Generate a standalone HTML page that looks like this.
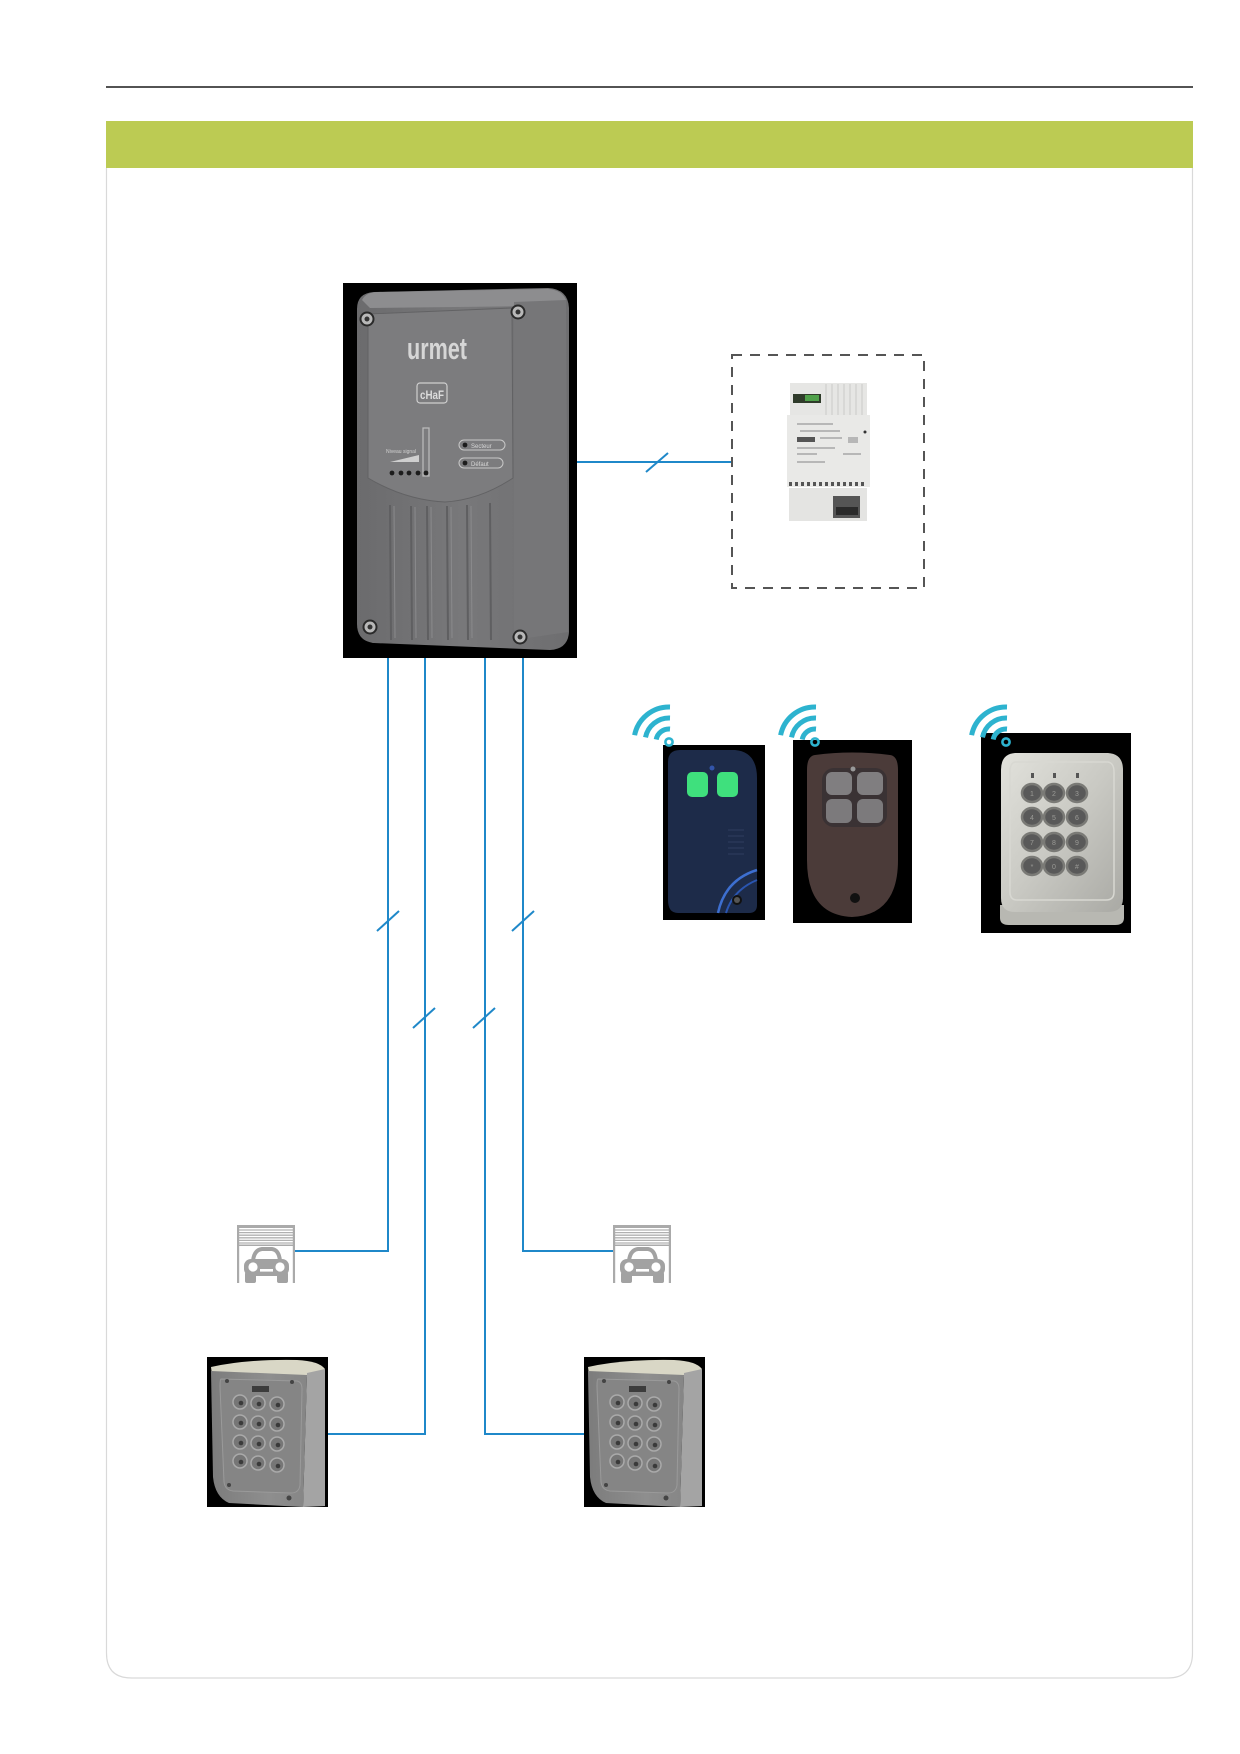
<!DOCTYPE html>
<html>
<head>
<meta charset="utf-8">
<style>
  html,body{margin:0;padding:0;background:#fff;}
  body{width:1240px;height:1754px;overflow:hidden;}
  svg{display:block;}
  text{font-family:"Liberation Sans",sans-serif;}
</style>
</head>
<body>
<svg width="1240" height="1754" viewBox="0 0 1240 1754" xmlns="http://www.w3.org/2000/svg">
  <defs>
    <linearGradient id="bodyG" x1="0" y1="0" x2="1" y2="0">
      <stop offset="0" stop-color="#6b6b6d"/>
      <stop offset="0.5" stop-color="#78787a"/>
      <stop offset="1" stop-color="#6e6e70"/>
    </linearGradient>
    <linearGradient id="silverG" x1="0" y1="0" x2="1" y2="1">
      <stop offset="0" stop-color="#e2e2dc"/>
      <stop offset="0.5" stop-color="#c9c9c3"/>
      <stop offset="1" stop-color="#a9a9a4"/>
    </linearGradient>
    <linearGradient id="kpG" x1="0" y1="0" x2="1" y2="0">
      <stop offset="0" stop-color="#7c7c7c"/>
      <stop offset="0.6" stop-color="#8e8e8e"/>
      <stop offset="1" stop-color="#868686"/>
    </linearGradient>
    <g id="wifi">
      <circle cx="0" cy="0" r="3.6" fill="none" stroke="#2db3cf" stroke-width="2.6"/>
      <path d="M-12.8 -2.5 A13 13 0 0 1 1 -13" fill="none" stroke="#2db3cf" stroke-width="5"/>
      <path d="M-23.5 -4.6 A24 24 0 0 1 1 -24" fill="none" stroke="#2db3cf" stroke-width="5"/>
      <path d="M-34.4 -6.8 A35 35 0 0 1 1 -35" fill="none" stroke="#2db3cf" stroke-width="5"/>
    </g>
    <g id="garage">
      <rect x="0" y="0" width="58" height="3" fill="#aaaaaa"/>
      <rect x="0" y="0" width="2.2" height="58" fill="#aaaaaa"/>
      <rect x="55.8" y="0" width="2.2" height="58" fill="#aaaaaa"/>
      <g stroke="#b0b0b0" stroke-width="1.3">
        <line x1="2" y1="5" x2="56" y2="5"/>
        <line x1="2" y1="7.6" x2="56" y2="7.6"/>
        <line x1="2" y1="10.2" x2="56" y2="10.2"/>
        <line x1="2" y1="12.8" x2="56" y2="12.8"/>
        <line x1="2" y1="15.4" x2="56" y2="15.4"/>
        <line x1="2" y1="18" x2="56" y2="18"/>
      </g>
      <rect x="2" y="19.5" width="54" height="1.5" fill="#aaaaaa"/>
      <path d="M16 36 Q17 25 25 24 L35 24 Q42 25 43 36 Z" fill="none" stroke="#a2a2a2" stroke-width="4"/>
      <rect x="7" y="34" width="45" height="17" rx="7" fill="#a2a2a2"/>
      <rect x="8" y="47" width="11" height="11" rx="2" fill="#a2a2a2"/>
      <rect x="40" y="47" width="11" height="11" rx="2" fill="#a2a2a2"/>
      <circle cx="16" cy="42" r="4.6" fill="#fff"/>
      <circle cx="43" cy="42" r="4.6" fill="#fff"/>
      <rect x="23" y="44" width="13" height="2.6" fill="#fff"/>
    </g>
    <g id="keypad">
      <rect x="0" y="0" width="121" height="150" fill="#000"/>
      <path d="M4 10 Q40 2 90 3 Q112 4 118 12 L100 20 L5 18 Z" fill="#d9d7c6"/>
      <path d="M100 16 L118 12 L118 149 L96 150 Z" fill="#a4a4a4"/>
      <path d="M4 14 L100 18 L96 150 L22 146 Q8 140 6 120 Z" fill="url(#kpG)"/>
      <path d="M14 22 L90 24 Q95 25 95 32 L93 128 Q92 136 84 136 L26 134 Q18 133 17 125 L13 30 Q13 22 14 22 Z" fill="#858585" stroke="#9a9a9a" stroke-width="1"/>
      <rect x="45" y="29" width="17" height="6" fill="#3c3c3c"/>
      <g fill="#767676" stroke="#aaaaaa" stroke-width="1.5">
        <circle cx="33" cy="45" r="7"/><circle cx="51" cy="46" r="7"/><circle cx="70" cy="47" r="7"/>
        <circle cx="33" cy="65" r="7"/><circle cx="51" cy="66" r="7"/><circle cx="70" cy="67" r="7"/>
        <circle cx="33" cy="85" r="7"/><circle cx="51" cy="86" r="7"/><circle cx="70" cy="87" r="7"/>
        <circle cx="33" cy="104" r="7"/><circle cx="51" cy="106" r="7"/><circle cx="70" cy="108" r="7"/>
      </g>
      <g fill="#3a3a3a">
        <circle cx="34" cy="46" r="2.3"/><circle cx="52" cy="47" r="2.3"/><circle cx="71" cy="48" r="2.3"/>
        <circle cx="34" cy="66" r="2.3"/><circle cx="52" cy="67" r="2.3"/><circle cx="71" cy="68" r="2.3"/>
        <circle cx="34" cy="86" r="2.3"/><circle cx="52" cy="87" r="2.3"/><circle cx="71" cy="88" r="2.3"/>
        <circle cx="34" cy="105" r="2.3"/><circle cx="52" cy="107" r="2.3"/><circle cx="71" cy="109" r="2.3"/>
      </g>
      <circle cx="20" cy="24" r="2" fill="#444"/>
      <circle cx="85" cy="25" r="2" fill="#444"/>
      <circle cx="22" cy="128" r="2" fill="#444"/>
      <circle cx="82" cy="141" r="2.5" fill="#444"/>
    </g>
  </defs>

  <line x1="106" y1="87" x2="1193" y2="87" stroke="#1a1a1a" stroke-width="1.6"/>
  <rect x="106" y="121" width="1087" height="47" fill="#bccb53"/>
  <path d="M106.5 168 L106.5 1653 Q106.5 1678 131.5 1678 L1167.5 1678 Q1192.5 1678 1192.5 1653 L1192.5 168" fill="none" stroke="#d9d9d9" stroke-width="1.2"/>

  <g stroke="#1f88c9" stroke-width="2" fill="none">
    <line x1="576" y1="462" x2="733" y2="462"/>
    <line x1="646" y1="472" x2="668" y2="453"/>
    <polyline points="388,658 388,1251 295,1251"/>
    <polyline points="425,658 425,1434 323,1434"/>
    <polyline points="485,658 485,1434 584,1434"/>
    <polyline points="523,658 523,1251 614,1251"/>
    <line x1="377" y1="931" x2="399" y2="911"/>
    <line x1="512" y1="931" x2="534" y2="911"/>
    <line x1="413" y1="1028" x2="435" y2="1008"/>
    <line x1="473" y1="1028" x2="495" y2="1008"/>
  </g>

  <rect x="732" y="355" width="192" height="233" fill="none" stroke="#555" stroke-width="2" stroke-dasharray="10,8"/>

  <!-- power supply -->
  <g>
    <rect x="790" y="383" width="77" height="34" fill="#e6e6e4"/>
    <g stroke="#c9c9c9" stroke-width="1">
      <line x1="826" y1="384" x2="826" y2="415"/><line x1="832" y1="384" x2="832" y2="415"/>
      <line x1="838" y1="384" x2="838" y2="415"/><line x1="844" y1="384" x2="844" y2="415"/>
      <line x1="850" y1="384" x2="850" y2="415"/><line x1="856" y1="384" x2="856" y2="415"/>
      <line x1="862" y1="384" x2="862" y2="415"/>
    </g>
    <rect x="793" y="394" width="28" height="9" fill="#2f3b2a"/>
    <rect x="805" y="395" width="14" height="6" fill="#4fa04a"/>
    <rect x="787" y="415" width="83" height="72" fill="#e9e9e7"/>
    <g fill="#b7b7b7">
      <rect x="797" y="423" width="36" height="2"/>
      <rect x="800" y="430" width="40" height="2"/>
      <rect x="820" y="437" width="22" height="2"/>
      <rect x="848" y="437" width="10" height="6"/>
      <rect x="797" y="447" width="38" height="2"/>
      <rect x="797" y="453" width="20" height="2"/>
      <rect x="843" y="453" width="18" height="2"/>
      <rect x="797" y="461" width="28" height="2"/>
    </g>
    <rect x="797" y="437" width="18" height="5" fill="#555"/>
    <circle cx="865" cy="432" r="1.5" fill="#333"/>
    <g fill="#555">
      <rect x="789" y="482" width="3" height="4"/><rect x="795" y="482" width="3" height="4"/>
      <rect x="801" y="482" width="3" height="4"/><rect x="807" y="482" width="3" height="4"/>
      <rect x="813" y="482" width="3" height="4"/><rect x="819" y="482" width="3" height="4"/>
      <rect x="825" y="482" width="3" height="4"/><rect x="831" y="482" width="3" height="4"/>
      <rect x="837" y="482" width="3" height="4"/><rect x="843" y="482" width="3" height="4"/>
      <rect x="849" y="482" width="3" height="4"/><rect x="855" y="482" width="3" height="4"/>
      <rect x="861" y="482" width="3" height="4"/>
    </g>
    <rect x="789" y="488" width="78" height="33" fill="#e4e4e2"/>
    <rect x="833" y="496" width="27" height="22" fill="#555"/>
    <rect x="836" y="507" width="22" height="8" fill="#2a2a2a"/>
  </g>

  <!-- main device -->
  <g>
    <rect x="343" y="283" width="234" height="375" fill="#000"/>
    <path d="M374 292 L548 288 Q568 289 569 308 L569 632 Q568 649 550 650 L374 643 Q357 641 357 624 L357 309 Q357 293 374 292 Z" fill="url(#bodyG)"/>
    <path d="M362 300 Q366 292 378 292 L548 289 Q562 290 566 300 L540 306 L370 308 Z" fill="#8d8d8f"/>
    <path d="M514 302 L566 300 L568 632 L514 640 Z" fill="#767678"/>
    <path d="M368 314 L512 308 L513 478 Q480 500 445 502 Q405 500 368 478 Z" fill="#7c7c7e" stroke="#626264" stroke-width="1"/>
    <g stroke="#5f5f61" stroke-width="2">
      <line x1="390" y1="505" x2="391" y2="640"/>
      <line x1="411" y1="506" x2="412" y2="640"/>
      <line x1="427" y1="506" x2="428" y2="640"/>
      <line x1="447" y1="506" x2="448" y2="640"/>
      <line x1="467" y1="505" x2="468" y2="640"/>
      <line x1="490" y1="503" x2="491" y2="640"/>
    </g>
    <g stroke="#8a8a8c" stroke-width="1">
      <line x1="394" y1="506" x2="395" y2="638"/>
      <line x1="415" y1="507" x2="416" y2="638"/>
      <line x1="431" y1="507" x2="432" y2="638"/>
      <line x1="451" y1="507" x2="452" y2="638"/>
      <line x1="471" y1="506" x2="472" y2="638"/>
    </g>
    <g>
      <circle cx="367" cy="319" r="7.5" fill="#2a2a2a"/><circle cx="367" cy="319" r="5.5" fill="#b8b8b8"/><circle cx="367" cy="319" r="2.5" fill="#333"/>
      <circle cx="518" cy="312" r="7.5" fill="#2a2a2a"/><circle cx="518" cy="312" r="5.5" fill="#b8b8b8"/><circle cx="518" cy="312" r="2.5" fill="#333"/>
      <circle cx="370" cy="627" r="7.5" fill="#2a2a2a"/><circle cx="370" cy="627" r="5.5" fill="#b8b8b8"/><circle cx="370" cy="627" r="2.5" fill="#333"/>
      <circle cx="520" cy="637" r="7.5" fill="#2a2a2a"/><circle cx="520" cy="637" r="5.5" fill="#b8b8b8"/><circle cx="520" cy="637" r="2.5" fill="#333"/>
    </g>
    <text x="407" y="359" font-family="Liberation Sans Narrow, Liberation Sans, sans-serif" font-weight="bold" font-size="31" fill="#d6d6d6" textLength="60" lengthAdjust="spacingAndGlyphs">urmet</text>
    <rect x="417" y="383" width="30" height="20" rx="3" fill="none" stroke="#cfcfcf" stroke-width="1.2"/>
    <text x="420" y="399" font-size="12" font-weight="bold" fill="#dcdcdc" textLength="24" lengthAdjust="spacingAndGlyphs">cHaF</text>
    <rect x="423" y="428" width="6" height="48" fill="none" stroke="#bdbdbd" stroke-width="1.2"/>
    <text x="386" y="453" font-size="5" fill="#d0d0d0">Niveau signal</text>
    <path d="M390 462 L419 455 L419 462 Z" fill="#cfcfcf"/>
    <g fill="#1c1c1c">
      <circle cx="392" cy="473" r="2.4"/><circle cx="401" cy="473" r="2.4"/><circle cx="409" cy="473" r="2.4"/><circle cx="418" cy="473" r="2.4"/><circle cx="426" cy="473" r="2.4"/>
    </g>
    <rect x="459" y="440" width="46" height="10" rx="5" fill="none" stroke="#c8c8c8" stroke-width="1"/>
    <circle cx="465" cy="445" r="2.4" fill="#1c1c1c"/>
    <text x="471" y="448" font-size="6" fill="#d8d8d8">Secteur</text>
    <rect x="459" y="458" width="44" height="10" rx="5" fill="none" stroke="#c8c8c8" stroke-width="1"/>
    <circle cx="465" cy="463" r="2.4" fill="#1c1c1c"/>
    <text x="471" y="466" font-size="6" fill="#d8d8d8">Défaut</text>
  </g>

  <!-- remote 1 (blue) -->
  <g>
    <rect x="663" y="745" width="102" height="175" fill="#000"/>
    <path d="M680 750 L735 750 Q757 752 757 778 L757 905 Q757 913 749 913 L678 913 Q668 913 668 900 L668 762 Q668 750 680 750 Z" fill="#1d2b49"/>
    <rect x="687" y="772" width="21" height="25" rx="5" fill="#3fe07d"/>
    <rect x="717" y="772" width="21" height="25" rx="5" fill="#3fe07d"/>
    <circle cx="712" cy="768" r="2.5" fill="#3355aa"/>
    <g stroke="#2f3e60" stroke-width="1"><line x1="728" y1="830" x2="744" y2="830"/><line x1="728" y1="836" x2="744" y2="836"/><line x1="728" y1="842" x2="744" y2="842"/><line x1="728" y1="848" x2="744" y2="848"/><line x1="728" y1="854" x2="744" y2="854"/></g>
    <path d="M718 913 Q725 880 757 870" fill="none" stroke="#3d6fd0" stroke-width="2.5"/>
    <path d="M726 913 Q733 890 757 880" fill="none" stroke="#2a55b0" stroke-width="2"/>
    <circle cx="737" cy="900" r="5" fill="#111"/>
    <circle cx="737" cy="900" r="3" fill="#555"/>
  </g>

  <!-- remote 2 (brown) -->
  <g>
    <rect x="793" y="740" width="119" height="183" fill="#000"/>
    <path d="M815 755 Q852 750 890 755 Q898 756 898 770 L898 860 Q898 915 852 917 Q807 915 807 860 L807 770 Q807 756 815 755 Z" fill="#4b3b39"/>
    <rect x="822" y="768" width="65" height="59" rx="12" fill="#3a3234"/>
    <rect x="826" y="772" width="26" height="23" rx="6" fill="#807e80"/>
    <rect x="857" y="772" width="26" height="23" rx="6" fill="#807e80"/>
    <rect x="826" y="799" width="26" height="24" rx="6" fill="#7c7a7c"/>
    <rect x="857" y="799" width="26" height="24" rx="6" fill="#7c7a7c"/>
    <circle cx="853" cy="769" r="2.5" fill="#999"/>
    <circle cx="855" cy="898" r="5" fill="#111"/>
  </g>

  <!-- remote 3 (silver keypad) -->
  <g>
    <rect x="981" y="733" width="150" height="200" fill="#000"/>
    <path d="M1000 905 L1124 905 L1124 918 Q1124 925 1115 925 L1009 925 Q1000 925 1000 918 Z" fill="#b8b8b2"/>
    <path d="M1015 753 L1108 753 Q1123 754 1123 770 L1123 898 Q1123 912 1108 912 L1015 912 Q1001 912 1001 898 L1001 770 Q1001 754 1015 753 Z" fill="url(#silverG)"/>
    <path d="M1015 762 L1108 762 Q1114 763 1114 772 L1114 892 Q1114 900 1106 900 L1017 900 Q1010 900 1010 892 L1010 772 Q1010 763 1015 762 Z" fill="none" stroke="#d8d8d2" stroke-width="1.5"/>
    <g fill="#555"><rect x="1031" y="773" width="3" height="5"/><rect x="1053" y="773" width="3" height="5"/><rect x="1076" y="773" width="3" height="5"/></g>
    <g fill="#595959" stroke="#7a7a76" stroke-width="2.5">
      <ellipse cx="1032" cy="793" rx="10" ry="9"/><ellipse cx="1054" cy="793" rx="10" ry="9"/><ellipse cx="1077" cy="793" rx="10" ry="9"/>
      <ellipse cx="1032" cy="817" rx="10" ry="9"/><ellipse cx="1054" cy="817" rx="10" ry="9"/><ellipse cx="1077" cy="817" rx="10" ry="9"/>
      <ellipse cx="1032" cy="842" rx="10" ry="9"/><ellipse cx="1054" cy="842" rx="10" ry="9"/><ellipse cx="1077" cy="842" rx="10" ry="9"/>
      <ellipse cx="1032" cy="866" rx="10" ry="9"/><ellipse cx="1054" cy="866" rx="10" ry="9"/><ellipse cx="1077" cy="866" rx="10" ry="9"/>
    </g>
    <g fill="#9a9a96" font-size="7" text-anchor="middle">
      <text x="1032" y="796">1</text><text x="1054" y="796">2</text><text x="1077" y="796">3</text>
      <text x="1032" y="820">4</text><text x="1054" y="820">5</text><text x="1077" y="820">6</text>
      <text x="1032" y="845">7</text><text x="1054" y="845">8</text><text x="1077" y="845">9</text>
      <text x="1032" y="869">*</text><text x="1054" y="869">0</text><text x="1077" y="869">#</text>
    </g>
  </g>

  <!-- wifi icons (drawn on top of remotes) -->
  <use href="#wifi" x="669" y="742"/>
  <use href="#wifi" x="815" y="742"/>
  <use href="#wifi" x="1006" y="742"/>

  <use href="#garage" x="237" y="1225"/>
  <use href="#garage" x="613" y="1225"/>

  <use href="#keypad" x="207" y="1357"/>
  <use href="#keypad" x="584" y="1357"/>
</svg>
</body>
</html>
